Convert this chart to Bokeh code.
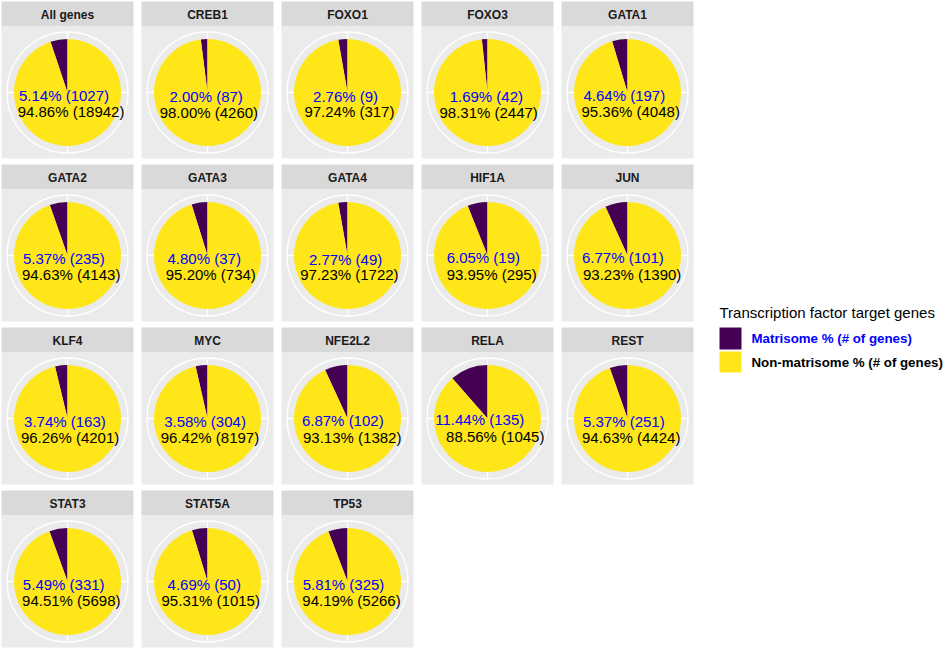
import math
from bokeh.plotting import figure
from bokeh.models import Range1d
from bokeh.core.properties import value
from bokeh.embed import file_html
from bokeh.resources import INLINE

# ---- data ----
genes = ["All genes", "CREB1", "FOXO1", "FOXO3", "GATA1",
         "GATA2", "GATA3", "GATA4", "HIF1A", "JUN",
         "KLF4", "MYC", "NFE2L2", "RELA", "REST",
         "STAT3", "STAT5A", "TP53"]
matrisome_pct = [5.14, 2.00, 2.76, 1.69, 4.64,
                 5.37, 4.80, 2.77, 6.05, 6.77,
                 3.74, 3.58, 6.87, 11.44, 5.37,
                 5.49, 4.69, 5.81]
matrisome_n = [1027, 87, 9, 42, 197,
               235, 37, 49, 19, 101,
               163, 304, 102, 135, 251,
               331, 50, 325]
non_pct = [94.86, 98.00, 97.24, 98.31, 95.36,
           94.63, 95.20, 97.23, 93.95, 93.23,
           96.26, 96.42, 93.13, 88.56, 94.63,
           94.51, 95.31, 94.19]
non_n = [18942, 4260, 317, 2447, 4048,
         4143, 734, 1722, 295, 1390,
         4201, 8197, 1382, 1045, 4424,
         5698, 1015, 5266]
legend_title = "Transcription factor target genes"
legend_labels = ["Matrisome % (# of genes)", "Non-matrisome % (# of genes)"]
colors = ["#440154", "#FEE619"]
label_colors = ["#0000FF", "#000000"]

# ---- layout ----
W, H = 946, 650
NCOL = 5
X0, Y0 = 1, 1
PITCH_X, PITCH_Y = 140, 163
PW, STRIP_H, PLOT_H = 132, 25, 132
R_PIE, R_GRID = 53.5, 60.5
FONT = "Liberation Sans"

def Y(ys):
    return H - ys

p = figure(width=W, height=H, output_backend="svg", toolbar_location=None,
           x_range=Range1d(0, W), y_range=Range1d(0, H), min_border=0)
p.axis.visible = False
p.grid.visible = False
p.outline_line_color = None
p.background_fill_color = "white"
p.border_fill_color = "white"

strip_l, strip_r, strip_t, strip_b = [], [], [], []
pan_t, pan_b = [], []
strip_x, strip_y = [], []
cxs, cys = [], []
seg_x0, seg_y0, seg_x1, seg_y1 = [], [], [], []
w_x, w_y, w_s, w_e, w_c = [], [], [], [], []
t_x, t_y, t_txt, t_col = [], [], [], []

for i, g in enumerate(genes):
    col, row = i % NCOL, i // NCOL
    left = X0 + col * PITCH_X
    top = Y0 + row * PITCH_Y
    strip_l.append(left); strip_r.append(left + PW)
    strip_t.append(Y(top)); strip_b.append(Y(top + STRIP_H))
    pan_t.append(Y(top + STRIP_H)); pan_b.append(Y(top + STRIP_H + PLOT_H))
    strip_x.append(left + PW / 2); strip_y.append(Y(top + STRIP_H / 2 + 0.5))
    cx = left + PW / 2
    cy = Y(top + STRIP_H + PLOT_H / 2)
    cxs.append(cx); cys.append(cy)
    for k in range(4):
        a = k * math.pi / 2
        seg_x0.append(cx); seg_y0.append(cy)
        seg_x1.append(cx + R_GRID * math.cos(a)); seg_y1.append(cy + R_GRID * math.sin(a))
    phi = matrisome_pct[i] / 100 * 2 * math.pi
    w_x += [cx, cx]; w_y += [cy, cy]
    w_s += [math.pi / 2, math.pi / 2 + phi]
    w_e += [math.pi / 2 + phi, math.pi / 2 + 2 * math.pi]
    w_c += colors
    s = math.sin(phi / 2)
    t_x.append(cx - 22 * s); t_y.append(cy - (4.5 - 11 * s))
    t_txt.append("%.2f%% (%d)" % (matrisome_pct[i], matrisome_n[i]))
    t_col.append(label_colors[0])
    t_x.append(cx + 22 * s); t_y.append(cy - (20.0 - 6 * s))
    t_txt.append("%.2f%% (%d)" % (non_pct[i], non_n[i]))
    t_col.append(label_colors[1])

p.quad(left=strip_l, right=strip_r, top=strip_t, bottom=strip_b,
       fill_color="#D9D9D9", line_color=None)
p.quad(left=strip_l, right=strip_r, top=pan_t, bottom=pan_b,
       fill_color="#EBEBEB", line_color=None)
p.text(x=strip_x, y=strip_y, text=genes, text_font=value(FONT),
       text_font_size="12px", text_font_style="bold", text_color="#1A1A1A",
       text_align="center", text_baseline="middle")
p.segment(x0=seg_x0, y0=seg_y0, x1=seg_x1, y1=seg_y1, line_color="white", line_width=1.3)
p.circle(x=cxs, y=cys, radius=R_GRID, fill_color=None, line_color="white", line_width=1.3)
p.wedge(x=w_x, y=w_y, radius=R_PIE, start_angle=w_s, end_angle=w_e,
        direction="anticlock", fill_color=w_c, line_color=None)
p.text(x=t_x, y=t_y, text=t_txt, text_color=t_col, text_font=value(FONT),
       text_font_size="15px", text_align="center", text_baseline="middle")

# ---- legend ----
LX, LTY = 719, 312
p.text(x=[LX], y=[Y(LTY)], text=[legend_title], text_font=value(FONT),
       text_font_size="15px", text_color="#000000", text_align="left",
       text_baseline="middle")
key_top = [Y(327), Y(351)]
key_bot = [Y(349), Y(372)]
p.quad(left=[LX, LX], right=[LX + 22, LX + 22], top=key_top, bottom=key_bot,
       fill_color=colors, line_color=None)
p.text(x=[LX + 32, LX + 32], y=[Y(338), Y(362)], text=legend_labels,
       text_color=label_colors, text_font=value(FONT), text_font_size="13.3px",
       text_font_style="bold", text_align="left", text_baseline="middle")

open("out.html", "w").write(file_html(p, INLINE))
